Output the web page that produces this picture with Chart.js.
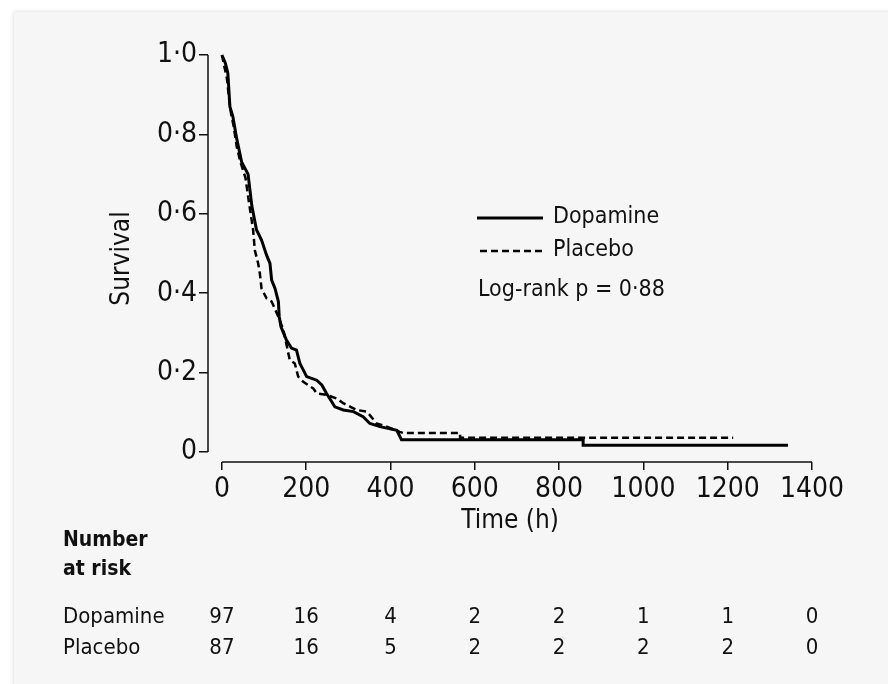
<!DOCTYPE html>
<html>
<head>
<meta charset="utf-8">
<script src="https://cdn.jsdelivr.net/npm/chart.js@4/dist/chart.umd.min.js"></script>
<style>
  html, body { margin: 0; padding: 0; background: #fff; }
  #card { position: absolute; left: 14px; top: 12px; width: 900px; height: 700px; background: #f6f6f6; box-shadow: 0 0 4px rgba(0,0,0,0.18); }
  #km { position: absolute; left: 0; top: 0; }
</style>
</head>
<body>
<div id="card"></div>
<canvas id="km" width="888" height="684"></canvas>
<script>
const dopamineTime = [0, 8, 14, 19, 26, 35, 47, 62, 71, 82, 94, 106, 114, 118, 126, 134, 136, 140, 153, 165, 177, 185, 193, 201, 225, 237, 248, 268, 288, 312, 335, 351, 375, 415, 426, 857, 857, 1343];
const dopamineSurv = [1.0, 0.98, 0.955, 0.87, 0.845, 0.79, 0.73, 0.70, 0.62, 0.56, 0.534, 0.496, 0.475, 0.433, 0.412, 0.379, 0.341, 0.316, 0.282, 0.262, 0.257, 0.223, 0.207, 0.19, 0.181, 0.169, 0.148, 0.114, 0.106, 0.102, 0.089, 0.072, 0.064, 0.055, 0.031, 0.031, 0.017, 0.017];

const placeboTime = [0, 6, 12, 17, 22, 28, 35, 44, 56, 64, 74, 78, 86, 90, 94, 106, 118, 134, 146, 161, 173, 181, 193, 217, 225, 248, 272, 288, 320, 343, 351, 367, 391, 422, 430, 565, 565, 1213];
const placeboSurv = [1.0, 0.97, 0.94, 0.89, 0.85, 0.82, 0.77, 0.73, 0.69, 0.63, 0.56, 0.509, 0.475, 0.45, 0.412, 0.387, 0.379, 0.341, 0.307, 0.232, 0.223, 0.19, 0.177, 0.16, 0.148, 0.144, 0.135, 0.123, 0.106, 0.102, 0.093, 0.072, 0.064, 0.051, 0.048, 0.048, 0.036, 0.036];

const timeTicks = [0, 200, 400, 600, 800, 1000, 1200, 1400];
const survTicks = [0, 0.2, 0.4, 0.6, 0.8, 1.0];

const riskGroups = ["Dopamine", "Placebo"];
const dopamineAtRisk = [97, 16, 4, 2, 2, 1, 1, 0];
const placeboAtRisk = [87, 16, 5, 2, 2, 2, 2, 0];

const FONT = "'DejaVu Sans Condensed', 'DejaVu Sans', sans-serif";
const INK = "#111";

function toPoints(ts, ss) {
  return ts.map((t, i) => ({ x: t, y: ss[i] }));
}

// axis lines (offset, R-style), legend and number-at-risk table
const kmExtras = {
  id: "kmExtras",
  afterDraw(chart) {
    const { ctx, chartArea, scales: { x, y } } = chart;
    ctx.save();
    ctx.strokeStyle = INK;
    ctx.lineWidth = 1.5;
    ctx.beginPath();
    ctx.moveTo(chartArea.left, y.getPixelForValue(survTicks[survTicks.length - 1]));
    ctx.lineTo(chartArea.left, y.getPixelForValue(survTicks[0]));
    ctx.moveTo(x.getPixelForValue(timeTicks[0]), chartArea.bottom);
    ctx.lineTo(x.getPixelForValue(timeTicks[timeTicks.length - 1]), chartArea.bottom);
    ctx.stroke();

    // legend
    const ds = chart.data.datasets;
    ctx.fillStyle = INK;
    ctx.font = "23px " + FONT;
    ctx.textBaseline = "middle";
    ctx.textAlign = "left";
    const rows = [218, 251];
    ds.forEach((d, i) => {
      ctx.beginPath();
      ctx.strokeStyle = "#000";
      ctx.lineWidth = d.borderWidth;
      ctx.setLineDash(d.borderDash || []);
      ctx.moveTo(i === 0 ? 477 : 480, rows[i]);
      ctx.lineTo(543, rows[i]);
      ctx.stroke();
      ctx.setLineDash([]);
      ctx.fillText(d.label, 553, rows[i] - 1);
    });
    ctx.fillText("Log-rank p = 0\u00b788", 478, 290);

    // number at risk
    ctx.font = "bold 21px " + FONT;
    ctx.fillText("Number", 63, 541);
    ctx.fillText("at risk", 63, 570);
    ctx.font = "22px " + FONT;
    const tableRows = [dopamineAtRisk, placeboAtRisk];
    const tableY = [617, 648];
    riskGroups.forEach((g, r) => {
      ctx.textAlign = "left";
      ctx.fillText(g, 63, tableY[r]);
      ctx.textAlign = "center";
      tableRows[r].forEach((n, i) => {
        ctx.fillText(String(n), x.getPixelForValue(timeTicks[i]), tableY[r]);
      });
    });
    ctx.restore();
  }
};

new Chart(document.getElementById("km"), {
  type: "line",
  data: {
    datasets: [
      {
        label: "Dopamine",
        data: toPoints(dopamineTime, dopamineSurv),
        borderColor: "#000",
        borderWidth: 3,
        pointRadius: 0,
        fill: false,
        clip: false,
      },
      {
        label: "Placebo",
        data: toPoints(placeboTime, placeboSurv),
        borderColor: "#000",
        borderWidth: 2.5,
        borderDash: [7, 4],
        pointRadius: 0,
        fill: false,
        clip: false,
      },
    ],
  },
  options: {
    responsive: false,
    animation: false,
    layout: {
      padding: { left: 100, right: 76, top: 55, bottom: 142 },
    },
    scales: {
      x: {
        type: "linear",
        min: -33,
        max: 1400,
        afterBuildTicks: (s) => { s.ticks = timeTicks.map((v) => ({ value: v })); },
        afterFit: (s) => { s.height = 80; },
        grid: { display: true, drawOnChartArea: false, drawTicks: true, tickLength: 8, color: INK, lineWidth: 1.5 },
        border: { display: false },
        ticks: {
          autoSkip: false,
          maxRotation: 0,
          padding: 3,
          color: INK,
          font: { family: FONT, size: 28 },
          callback: (v) => String(v),
        },
        title: {
          display: true,
          text: "Time (h)",
          color: INK,
          font: { family: FONT, size: 26 },
          padding: { top: 0, bottom: 5 },
        },
      },
      y: {
        type: "linear",
        min: -0.025,
        max: 1.0,
        afterBuildTicks: (s) => { s.ticks = survTicks.map((v) => ({ value: v })); },
        afterFit: (s) => { s.width = 108; },
        grid: { display: true, drawOnChartArea: false, drawTicks: true, tickLength: 9, color: INK, lineWidth: 1.5 },
        border: { display: false },
        ticks: {
          padding: 2,
          color: INK,
          font: { family: FONT, size: 28 },
          callback: (v) => (v === 0 ? "0" : v.toFixed(1).replace(".", "\u00b7")),
        },
        title: {
          display: true,
          text: "Survival",
          color: INK,
          font: { family: FONT, size: 26 },
          padding: { top: 7, bottom: 0 },
        },
      },
    },
    plugins: {
      legend: { display: false },
      tooltip: { enabled: false },
    },
  },
  plugins: [kmExtras],
});
</script>
</body>
</html>
